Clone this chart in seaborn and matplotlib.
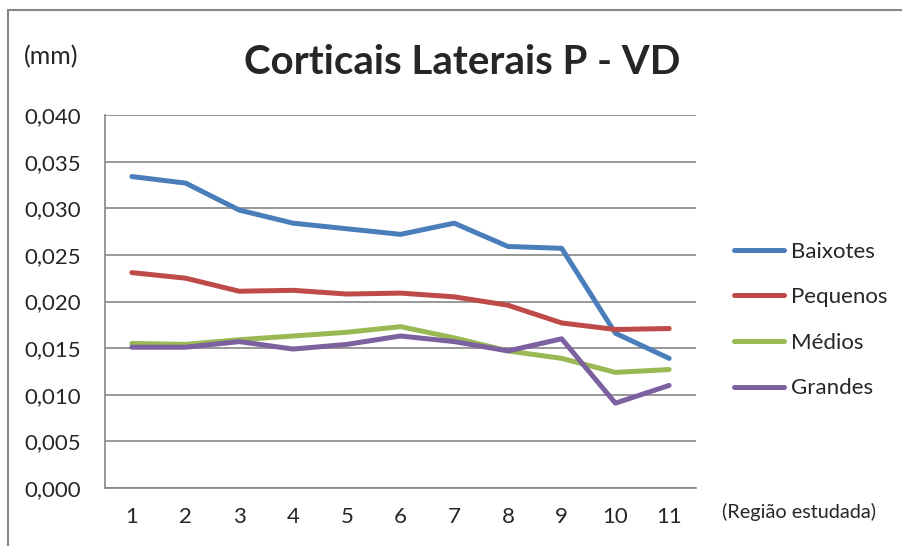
import matplotlib
matplotlib.use("Agg")
import matplotlib.pyplot as plt
import matplotlib.ticker as mticker
from matplotlib.patches import Rectangle
import seaborn as sns
import pandas as pd

# Values (mm)
regions = [1, 2, 3, 4, 5, 6, 7, 8, 9, 10, 11]
baixotes = [0.0334, 0.0327, 0.0298, 0.0284, 0.0278, 0.0272, 0.0284, 0.0259, 0.0257, 0.0166, 0.0139]
pequenos = [0.0231, 0.0225, 0.0211, 0.0212, 0.0208, 0.0209, 0.0205, 0.0196, 0.0177, 0.0170, 0.0171]
medios = [0.0155, 0.0154, 0.0159, 0.0163, 0.0167, 0.0173, 0.0161, 0.0147, 0.0139, 0.0124, 0.0127]
grandes = [0.0151, 0.0151, 0.0157, 0.0149, 0.0154, 0.0163, 0.0157, 0.0147, 0.0160, 0.0091, 0.0110]
series_names = ["Baixotes", "Pequenos", "Médios", "Grandes"]
colors = ["#4A7EBB", "#BE4B48", "#98B954", "#7D60A0"]

df = pd.DataFrame({
    "regiao": regions * 4,
    "valor": baixotes + pequenos + medios + grandes,
    "grupo": [n for n in series_names for _ in regions],
})

sns.set_style("white")
plt.rcParams["font.family"] = ["Lato", "DejaVu Sans"]

fig = plt.figure(figsize=(9.02, 5.46), dpi=100)
ax = fig.add_axes([105 / 902, 1 - 488 / 546, (696 - 105) / 902, (488 - 115) / 546])

sns.lineplot(data=df, x="regiao", y="valor", hue="grupo", palette=colors,
             linewidth=3.6, ax=ax, legend=True)

ax.set_xlim(0.5, 11.5)
ax.set_ylim(0, 0.040)
ax.set_yticks([i * 0.005 for i in range(9)])
ax.yaxis.set_major_formatter(mticker.FuncFormatter(lambda v, p: f"{v:.3f}".replace(".", ",")))
ax.set_xticks(regions)
ax.set_xticklabels([str(r) for r in regions])
ax.set_xticks([r + 0.5 for r in [0] + regions], minor=True)
ax.tick_params(axis="x", which="major", length=0, pad=14, labelsize=16)
ax.tick_params(axis="x", which="minor", length=5, width=1.2, color="#868686", direction="out")
ax.tick_params(axis="y", length=5, width=1.2, color="#868686", direction="out", pad=12, labelsize=16)
ax.grid(axis="y", color="#868686", linewidth=1.2)
ax.set_axisbelow(True)
for s in ["top", "right"]:
    ax.spines[s].set_visible(False)
for s in ["left", "bottom"]:
    ax.spines[s].set_color("#868686")
    ax.spines[s].set_linewidth(1.2)
ax.set_xlabel("")
ax.set_ylabel("")

leg = ax.legend(loc="center left", bbox_to_anchor=(714 / 902, 1 - 320 / 546),
                bbox_transform=fig.transFigure, frameon=False, fontsize=16,
                handlelength=2.25, handletextpad=0.3, labelspacing=1.15)
for line in leg.get_lines():
    line.set_linewidth(3.6)

fig.text(462 / 902, 1 - 62 / 546, "Corticais Laterais P - VD", ha="center", va="center",
         fontsize=29, fontweight="bold")
fig.text(24 / 902, 1 - 57 / 546, "(mm)", ha="left", va="center", fontsize=18)
fig.text(722 / 902, 1 - 512 / 546, "(Região estudada)", ha="left", va="center", fontsize=14.3)

# outer chart frame (left and top edges visible)
fig.patches.append(Rectangle((8 / 902, -0.1), 1.2, 1.1 - 10 / 546, transform=fig.transFigure,
                             fill=False, edgecolor="#868686", linewidth=1.5))

fig.savefig("out.png", dpi=100)
